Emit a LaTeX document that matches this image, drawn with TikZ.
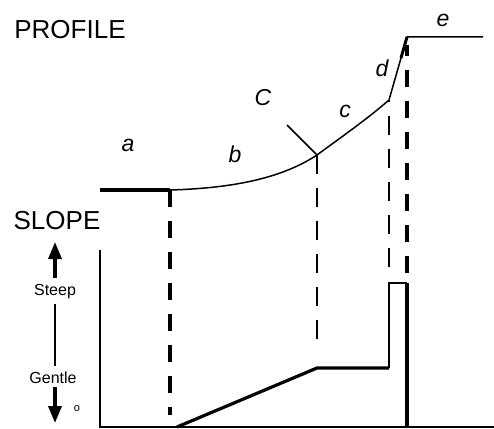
\documentclass[tikz,border=0pt]{standalone}
\usepackage{fontspec}
\setmainfont{Liberation Sans}
\usetikzlibrary{arrows.meta}
\tikzset{
  thickline/.style={line width=3.2pt},
  thinline/.style={line width=1.5pt},
  dashthick/.style={line width=4pt, dash pattern=on 17pt off 14pt},
  dashthin/.style={line width=1.4pt, dash pattern=on 19pt off 14pt},
  bigarrow/.style={line width=3.4pt, -{Triangle[length=17pt,width=13pt]}},
  seglabel/.style={font=\fontsize{23}{23}\selectfont\itshape},
  bigtitle/.style={font=\fontsize{26}{26}\selectfont},
  smalltext/.style={font=\fontsize{16}{16}\selectfont}
}

\begin{document}
\begin{tikzpicture}[x=1pt,y=-1pt]
			\useasboundingbox (0,0) rectangle (494,428);
			% profile points
			\coordinate (pa) at (100,190);
			\coordinate (ab) at (170,190);
			\coordinate (bc) at (317,155);
			\coordinate (cd) at (389,100);
			\coordinate (de) at (407,37);
			\coordinate (pe) at (483,37);
			\coordinate (ctick) at (287,125);
			% slope points
			\coordinate (s0) at (177,427);
			\coordinate (s1) at (317,368);
			\coordinate (s2) at (389,368);
			\coordinate (s3) at (389,283);
			\coordinate (s4) at (407,283);
			\coordinate (s5) at (407,427);
			\coordinate (axtop) at (100,250);
			\coordinate (orig) at (100,427);
			\coordinate (axend) at (494,427);
			% titles
			\node[bigtitle] (profile) at (70,30) {PROFILE};
			\node[bigtitle] (slope) at (57,221) {SLOPE};
			% profile
			\draw[thickline] (pa) -- (ab);
			\draw[thinline] (ab) .. controls (240,188) and (285,176) .. (bc);
			\draw[thinline] (bc) .. controls (340,138) and (366,120) .. (cd);
			\draw[thinline] (cd) -- (de) -- (pe);
			\draw[line width=3pt] (401,58) -- (de);
			\draw[thinline] (ctick) -- (bc);
			\node[seglabel] (la) at (128,145) {a};
			\node[seglabel] (lb) at (235,154) {b};
			\node[seglabel] (lC) at (263,98) {C};
			\node[seglabel] (lc) at (345,111) {c};
			\node[seglabel] (ld) at (382,68) {d};
			\node[seglabel] (le) at (443,20) {e};
			% dropped lines
			\draw[dashthick] (ab) -- (170,415);
			\draw[dashthin] (bc) -- (317,352);
			\draw[dashthin] (389,267) -- (cd);
			\draw[dashthick] (407,273) -- (407,45);
			% slope graph
			\draw[thinline] (axtop) -- (orig) -- (axend);
			\draw[thickline] (s0) -- (s1) -- (s2);
			\draw[thinline] (s2) -- (s3) -- (s4);
			\draw[thickline] (s4) -- (s5);
			% scale at the side
			\node[smalltext] (steep) at (55,292) {Steep};
			\node[smalltext] (gentle) at (53,378) {Gentle};
			\draw[bigarrow] (55,278) -- (55,242);
			\draw[thinline] (55,304) -- (55,366);
			\draw[bigarrow] (55,387) -- (55,423);
			\node[font=\fontsize{11}{11}\selectfont] (zero) at (77,409) {o};
\end{tikzpicture}
\end{document}
